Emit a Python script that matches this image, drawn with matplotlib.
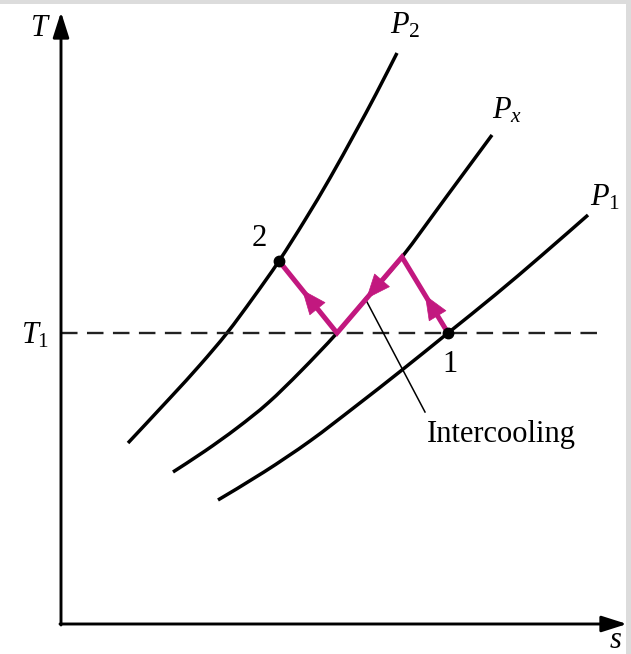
import matplotlib
matplotlib.use('Agg')
import matplotlib.pyplot as plt
from matplotlib.patches import Rectangle, FancyArrowPatch, PathPatch
from matplotlib.path import Path

plt.rcParams['font.family'] = ['Liberation Serif', 'DejaVu Serif']
plt.rcParams['mathtext.fontset'] = 'custom'
plt.rcParams['mathtext.rm'] = 'Liberation Serif'
plt.rcParams['mathtext.it'] = 'Liberation Serif:italic'

# constant-pressure lines on the T-s diagram (s, T)
p2_s = [67, 109, 139, 166, 192, 218, 244, 269, 294, 315, 336]
p2_T = [181, 226, 259, 291, 326, 363, 404, 446, 491, 530, 571]
px_s = [112, 144, 176, 207, 240, 276, 309, 341, 386, 431]
px_T = [152, 173, 196, 221, 253, 291, 330, 367, 428, 489]
p1_s = [157, 203, 249, 295, 341, 387, 434, 480, 527]
p1_T = [124, 152, 183, 218, 254, 291, 329, 368, 409]

T1 = 291
# compression path 1 -> x -> (intercool) -> 2
path_s = [387, 341, 276, 218]
path_T = [291, 367, 291, 363]
arrow_frac = [0.50, 0.55, 0.60]

MAG = '#C2187F'


def smooth_path(xs, ys):
    # bezier segments through the read points (catmull-rom tangents)
    pts = list(zip(xs, ys))
    verts = [pts[0]]
    codes = [Path.MOVETO]
    n = len(pts)
    for i in range(n - 1):
        p0 = pts[max(i - 1, 0)]
        p1 = pts[i]
        p2 = pts[i + 1]
        p3 = pts[min(i + 2, n - 1)]
        c1 = (p1[0] + (p2[0] - p0[0]) / 6, p1[1] + (p2[1] - p0[1]) / 6)
        c2 = (p2[0] - (p3[0] - p1[0]) / 6, p2[1] - (p3[1] - p1[1]) / 6)
        verts += [c1, c2, p2]
        codes += [Path.CURVE4] * 3
    return Path(verts, codes)


fig = plt.figure(figsize=(6.31, 6.54), dpi=100)
fig.patch.set_facecolor('white')
fig.add_artist(Rectangle((0, 1 - 4 / 654), 1, 4 / 654, transform=fig.transFigure,
                         color='#dcdcdc', lw=0))
fig.add_artist(Rectangle((1 - 5 / 631, 0), 5 / 631, 1, transform=fig.transFigure,
                         color='#dcdcdc', lw=0))

ax = fig.add_axes([0, 0, 1, 1])
ax.set_xlim(-61, 570)
ax.set_ylim(-30, 624)
ax.axis('off')

# axes with arrows
ax.annotate('', xy=(0, 612), xytext=(0, -1),
            arrowprops=dict(arrowstyle='-|>,head_length=1.1,head_width=0.35',
                            mutation_scale=14, lw=2.1, color='black',
                            shrinkA=0, shrinkB=0))
ax.annotate('', xy=(566, 0), xytext=(-1, 0),
            arrowprops=dict(arrowstyle='-|>,head_length=1.1,head_width=0.35',
                            mutation_scale=14, lw=2.1, color='black',
                            shrinkA=0, shrinkB=0))

# T1 dashed line
ax.plot([0, 537], [T1, T1], color='#222222', lw=1.7, dashes=(7, 4))

# pressure lines
for s, T in [(p2_s, p2_T), (px_s, px_T), (p1_s, p1_T)]:
    ax.add_patch(PathPatch(smooth_path(s, T), facecolor='none', edgecolor='black',
                           lw=2.5, capstyle='butt'))

# leader line for intercooling
ax.plot([306, 364], [322, 212], color='black', lw=1.1)

# process path
ax.plot(path_s, path_T, color=MAG, lw=3.6, solid_joinstyle='miter', zorder=4)
for i, f in enumerate(arrow_frac):
    s0, T0 = path_s[i], path_T[i]
    s1, T1b = path_s[i + 1], path_T[i + 1]
    tip = (s0 + f * (s1 - s0), T0 + f * (T1b - T0))
    tail = (s0 + (f - 0.25) * (s1 - s0), T0 + (f - 0.25) * (T1b - T0))
    ax.add_patch(FancyArrowPatch(tail, tip,
                                 arrowstyle='-|>,head_length=1.2,head_width=0.5',
                                 mutation_scale=14, lw=0.5, color=MAG, zorder=5,
                                 shrinkA=0, shrinkB=0))

# state points
ax.plot([path_s[0], path_s[-1]], [path_T[0], path_T[-1]], 'o', color='black',
        ms=7.5, zorder=6)

fs = 22
ax.text(-21, 596, '$T$', fontsize=fs, ha='center', va='center')
ax.text(-26, 288, '$T_\\mathrm{1}$', fontsize=fs, ha='center', va='center')
ax.text(554, -16, '$s$', fontsize=fs, ha='center', va='center')
ax.text(344, 598, '$P_\\mathrm{2}$', fontsize=fs, ha='center', va='center')
ax.text(446, 513, '$P_x$', fontsize=fs, ha='center', va='center')
ax.text(544, 426, '$P_\\mathrm{1}$', fontsize=fs, ha='center', va='center')
ax.text(198, 385, '2', fontsize=fs, ha='center', va='center')
ax.text(389, 259, '1', fontsize=fs, ha='center', va='center')
ax.text(366, 182, 'Intercooling', fontsize=fs, ha='left', va='baseline')

fig.savefig('out.png', dpi=100)
